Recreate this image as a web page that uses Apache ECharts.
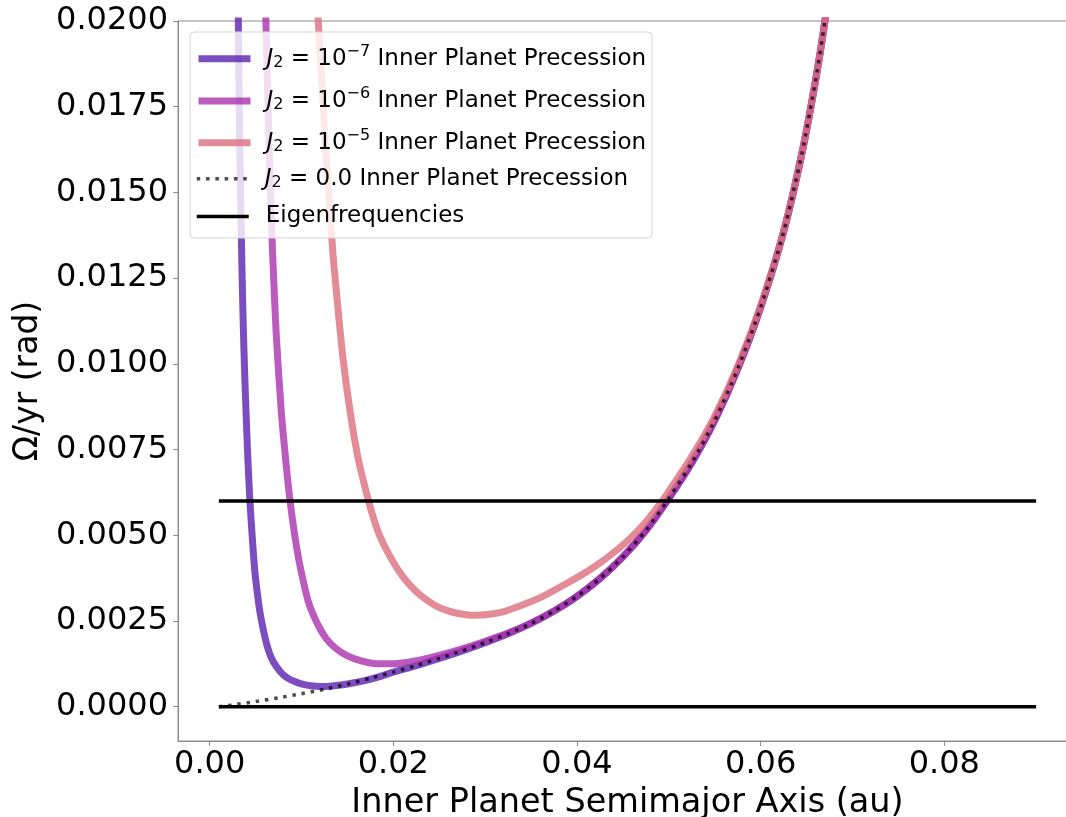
<!DOCTYPE html>
<html>
<head>
<meta charset="utf-8">
<script src="https://cdn.jsdelivr.net/npm/echarts@6/dist/echarts.min.js"></script>
<style>
  html, body { margin: 0; padding: 0; background: #ffffff; }
  #chart { width: 1066px; height: 817px; }
</style>
</head>
<body>
<div id="chart"></div>
<script>
// Inner planet nodal precession rate (rad/yr) against semimajor axis (au)

// J2 = 1e-7
const aJ7 = [0.00305, 0.00312, 0.00322, 0.00335, 0.00345, 0.00357, 0.00372, 0.00389, 0.00410, 0.00436,
  0.00465, 0.00490, 0.00515, 0.00545, 0.00580, 0.00620, 0.00670, 0.00726, 0.00800, 0.00871,
  0.00950, 0.01020, 0.01100, 0.01200, 0.01310, 0.01450, 0.01560, 0.01700, 0.01850, 0.02000,
  0.02250, 0.02500, 0.02750, 0.03000, 0.03250, 0.03500, 0.03750, 0.04000, 0.04250, 0.04500,
  0.04750, 0.05000, 0.05250, 0.05500, 0.05750, 0.06000, 0.06250, 0.06450, 0.06600, 0.06700,
  0.06800];
const omegaJ7 = [0.0215, 0.0200, 0.0175, 0.0152, 0.0137, 0.0121, 0.0105, 0.0091, 0.0076, 0.0061,
  0.0049, 0.0040, 0.0034, 0.0028, 0.0023, 0.00183, 0.00143, 0.00117, 0.00093, 0.00080,
  0.00071, 0.00065, 0.00061, 0.00059, 0.00060, 0.00064, 0.00069, 0.00077, 0.00088, 0.00101,
  0.00120, 0.00141, 0.00163, 0.00187, 0.00213, 0.00243, 0.00279, 0.00322, 0.00374, 0.00437,
  0.00514, 0.00608, 0.00712, 0.00835, 0.00985, 0.01165, 0.01385, 0.01615, 0.01830, 0.02000,
  0.02200];

// J2 = 1e-6
const aJ6 = [0.00598, 0.00612, 0.00640, 0.00680, 0.00700, 0.00726, 0.00780, 0.00835, 0.00871, 0.00926,
  0.00970, 0.01016, 0.01070, 0.01125, 0.01200, 0.01271, 0.01370, 0.01489, 0.01650, 0.01852,
  0.02050, 0.02250, 0.02500, 0.02750, 0.03000, 0.03250, 0.03500, 0.03750, 0.04000, 0.04250,
  0.04500, 0.04750, 0.05000, 0.05250, 0.05500, 0.05750, 0.06000, 0.06250, 0.06450, 0.06600,
  0.06700, 0.06800];
const omegaJ6 = [0.0215, 0.0200, 0.0170, 0.0136, 0.0123, 0.0108, 0.0086, 0.0070, 0.0061, 0.0050,
  0.0043, 0.0037, 0.0031, 0.0027, 0.00228, 0.00198, 0.00171, 0.00150, 0.00134, 0.00125,
  0.00126, 0.00134, 0.00150, 0.00169, 0.00191, 0.00215, 0.00244, 0.00279, 0.00322, 0.00374,
  0.00437, 0.00514, 0.00608, 0.00712, 0.00835, 0.00985, 0.01165, 0.01385, 0.01615, 0.01830,
  0.02000, 0.02200];

// J2 = 1e-5
const aJ5 = [0.01130, 0.01180, 0.01260, 0.01340, 0.01380, 0.01450, 0.01530, 0.01620, 0.01730, 0.01790,
  0.01850, 0.01950, 0.02050, 0.02150, 0.02290, 0.02450, 0.02580, 0.02720, 0.02850, 0.03000,
  0.03170, 0.03340, 0.03600, 0.03890, 0.04150, 0.04430, 0.04650, 0.04790, 0.04900, 0.05000,
  0.05250, 0.05500, 0.05750, 0.06000, 0.06250, 0.06450, 0.06600, 0.06700, 0.06800];
const omegaJ5 = [0.0215, 0.0201, 0.0164, 0.0133, 0.0121, 0.0102, 0.0086, 0.0072, 0.0060, 0.00545,
  0.0050, 0.00445, 0.00400, 0.00364, 0.00326, 0.00296, 0.00281, 0.00271, 0.00267, 0.00268,
  0.00275, 0.00290, 0.00318, 0.00360, 0.00401, 0.00456, 0.00510, 0.00552, 0.00590, 0.00628,
  0.00730, 0.00848, 0.00993, 0.01170, 0.01388, 0.01615, 0.01830, 0.02000, 0.02200];

// J2 = 0.0
const aJ0 = [0.0010, 0.0025, 0.0050, 0.0075, 0.0100, 0.0125, 0.0150, 0.0175, 0.0200, 0.0225,
  0.0250, 0.0275, 0.0300, 0.0325, 0.0350, 0.0375, 0.0400, 0.0425, 0.0450, 0.0475,
  0.0500, 0.0525, 0.0550, 0.0575, 0.0600, 0.0625, 0.0645, 0.0660, 0.0670, 0.0680];
const omegaJ0 = [0.00000, 0.00005, 0.00015, 0.00026, 0.00038, 0.00051, 0.00066, 0.00083, 0.00101, 0.00120,
  0.00141, 0.00163, 0.00187, 0.00213, 0.00243, 0.00279, 0.00322, 0.00374, 0.00437, 0.00514,
  0.00608, 0.00712, 0.00835, 0.00985, 0.01165, 0.01385, 0.01615, 0.01830, 0.02000, 0.02200];

// Eigenfrequencies of the two-planet system
const eigenSpan = [0.001, 0.09];
const eigenFreqs = [0.0, 0.006];

// Axis ticks
const xTicks = [0.00, 0.02, 0.04, 0.06, 0.08];
const yTicks = [0.0, 0.0025, 0.005, 0.0075, 0.01, 0.0125, 0.015, 0.0175, 0.02];

const NAMES = [
  'J2 = 1e-7 Inner Planet Precession',
  'J2 = 1e-6 Inner Planet Precession',
  'J2 = 1e-5 Inner Planet Precession',
  'J2 = 0.0 Inner Planet Precession',
  'Eigenfrequencies'
];
const LEGEND_TEXT = [
  '{j|J}{sub|2}{t| = 10}{sup|\u22127}{t| Inner Planet Precession}',
  '{j|J}{sub|2}{t| = 10}{sup|\u22126}{t| Inner Planet Precession}',
  '{j|J}{sub|2}{t| = 10}{sup|\u22125}{t| Inner Planet Precession}',
  '{j|J}{sub|2}{t| = 0.0 Inner Planet Precession}',
  '{e|Eigenfrequencies}'
];
const legendRows = [56.7, 99, 140.7, 178.3, 215];
const legendShift = [2, 2, 2, 3.5, 5];

const FONT = 'DejaVu Sans';
const zip = (xs, ys) => xs.map((x, i) => [x, ys[i]]);

const curve = (name, xs, ys, color, z) => ({
  name, type: 'line', data: zip(xs, ys), symbol: 'none', smooth: 0.25, z,
  lineStyle: { color, width: 7, opacity: 0.8, cap: 'butt', join: 'round' },
  itemStyle: { color },
  emphasis: { disabled: true }, animation: false
});

const DOT_COLOR = 'rgba(0,0,0,0.7)';
const series = [
  curve(NAMES[0], aJ7, omegaJ7, '#5b21af', 2),
  curve(NAMES[1], aJ6, omegaJ6, '#aa32ae', 3),
  curve(NAMES[2], aJ5, omegaJ5, '#dc6f7e', 4),
  {
    name: NAMES[3], type: 'line', data: zip(aJ0, omegaJ0), symbol: 'none', smooth: 0.25, z: 5,
    lineStyle: { color: DOT_COLOR, width: 3.5, type: [3.5, 5.8], cap: 'butt' },
    itemStyle: { color: DOT_COLOR },
    emphasis: { disabled: true }, animation: false
  }
];
eigenFreqs.forEach((f) => {
  series.push({
    name: NAMES[4], type: 'line', symbol: 'none', z: 6,
    data: eigenSpan.map((a) => [a, f]),
    lineStyle: { color: '#000000', width: 3.5, cap: 'butt' },
    itemStyle: { color: '#000000' },
    emphasis: { disabled: true }, animation: false
  });
});

const legendLines = [
  { color: '#5b21af', width: 7, opacity: 0.8, type: 'solid' },
  { color: '#aa32ae', width: 7, opacity: 0.8, type: 'solid' },
  { color: '#dc6f7e', width: 7, opacity: 0.8, type: 'solid' },
  { color: DOT_COLOR, width: 3.5, opacity: 1, type: [3.5, 5.8] },
  { color: '#000000', width: 3.5, opacity: 1, type: 'solid' }
];

const richBase = { fontFamily: FONT, color: '#000000', lineHeight: 30 };
const legendRich = {
  j: Object.assign({}, richBase, { fontSize: 23, fontStyle: 'italic', padding: [0, 0, 0, 11] }),
  sub: Object.assign({}, richBase, { fontSize: 16, padding: [8, 0, 0, 0] }),
  sup: Object.assign({}, richBase, { fontSize: 16, padding: [0, 0, 14, 0] }),
  t: Object.assign({}, richBase, { fontSize: 23 }),
  e: Object.assign({}, richBase, { fontSize: 23, padding: [0, 0, 0, 12] })
};

const legends = NAMES.map((name, i) => ({
  data: [name],
  left: 195,
  top: legendRows[i] - 15 + legendShift[i],
  padding: 0,
  itemWidth: 52,
  itemHeight: 14,
  itemGap: 0,
  selectedMode: false,
  z: 10,
  lineStyle: Object.assign({ cap: 'butt' }, legendLines[i]),
  itemStyle: { opacity: 0 },
  textStyle: { fontFamily: FONT, fontSize: 23, color: '#000', rich: legendRich },
  formatter: () => LEGEND_TEXT[i]
}));

const chart = echarts.init(document.getElementById('chart'), null, { renderer: 'canvas' });
chart.setOption({
  animation: false,
  backgroundColor: '#ffffff',
  textStyle: { fontFamily: FONT },
  grid: {
    left: 178, top: 21, width: 899, height: 720,
    show: true, borderColor: '#8c8c8c', borderWidth: 1, backgroundColor: 'transparent',
    containLabel: false, outerBoundsMode: 'none'
  },
  xAxis: {
    type: 'value', min: -0.00345, max: 0.09445,
    name: 'Inner Planet Semimajor Axis (au)', nameLocation: 'middle', nameGap: 41,
    nameTextStyle: { fontFamily: FONT, fontSize: 33.5, color: '#000' },
    axisLine: { show: true, onZero: false, lineStyle: { color: '#8c8c8c', width: 1 } },
    axisTick: { show: true, length: 5, customValues: xTicks, lineStyle: { color: '#8c8c8c', width: 1 } },
    axisLabel: {
      customValues: xTicks, margin: 8, color: '#000', fontFamily: FONT, fontSize: 32,
      formatter: (v) => v.toFixed(2)
    },
    splitLine: { show: false }
  },
  yAxis: {
    type: 'value', min: -0.001, max: 0.02,
    name: '\u03A9/yr (rad)', nameLocation: 'middle', nameGap: 105,
    nameTextStyle: { fontFamily: FONT, fontSize: 33, color: '#000' },
    axisLine: { show: true, onZero: false, lineStyle: { color: '#8c8c8c', width: 1 } },
    axisTick: { show: true, length: 5, customValues: yTicks, lineStyle: { color: '#8c8c8c', width: 1 } },
    axisLabel: {
      customValues: yTicks, margin: 10, color: '#000', fontFamily: FONT, fontSize: 32,
      formatter: (v) => v.toFixed(4)
    },
    splitLine: { show: false }
  },
  legend: legends,
  graphic: [{
    type: 'rect', z: 8,
    shape: { x: 190, y: 32, width: 462, height: 206, r: 4 },
    style: { fill: 'rgba(255,255,255,0.8)', stroke: '#d4d4d4', lineWidth: 1 }
  }],
  series
});
</script>
</body>
</html>
